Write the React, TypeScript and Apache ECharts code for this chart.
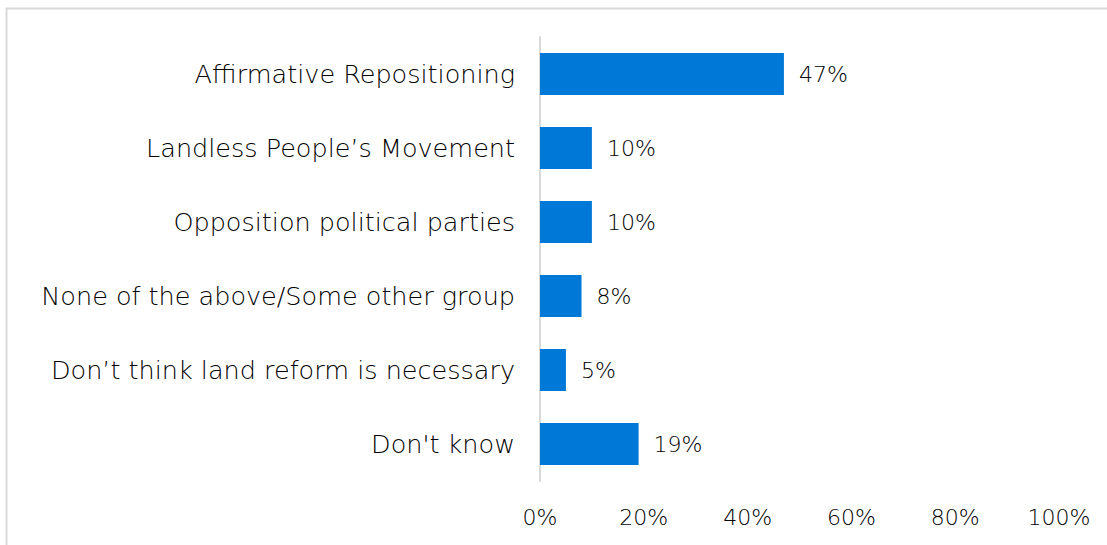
import React, { useEffect, useRef } from "react";
import * as echarts from "echarts";

const categories = [
  "Affirmative Repositioning",
  "Landless People\u2019s Movement",
  "Opposition political parties",
  "None of the above/Some other group",
  "Don\u2019t think land reform is necessary",
  "Don't know",
];
const values = [47, 10, 10, 8, 5, 19];
const xTicks = [0, 20, 40, 60, 80, 100];

const FONT = "'DejaVu Sans', sans-serif";

export default function App() {
  const ref = useRef<HTMLDivElement>(null);
  useEffect(() => {
    if (!ref.current) return;
    const chart = echarts.init(ref.current, null, { renderer: "svg" });
    chart.setOption({
      animation: false,
      backgroundColor: "#ffffff",
      graphic: [
        {
          type: "rect",
          left: 4,
          top: 6,
          shape: { width: 1120, height: 560 },
          style: { fill: "none", stroke: "#d9d9d9", lineWidth: 2 },
          silent: true,
        },
      ],
      grid: { left: 540, right: 48, top: 37, bottom: 64, containLabel: false },
      xAxis: {
        type: "value",
        min: xTicks[0],
        max: xTicks[xTicks.length - 1],
        interval: 20,
        axisLine: { show: false },
        axisTick: { show: false },
        splitLine: { show: false },
        axisLabel: {
          formatter: "{value}%",
          color: "#000000",
          fontFamily: FONT,
          fontWeight: 300,
          fontSize: 22,
          margin: 25,
        },
      },
      yAxis: {
        type: "category",
        data: categories,
        inverse: true,
        axisLine: { show: true, lineStyle: { color: "#d9d9d9", width: 2 } },
        axisTick: { show: false },
        axisLabel: {
          color: "#000000",
          fontFamily: FONT,
          fontWeight: 300,
          fontSize: 25.5,
          margin: 25,
        },
      },
      series: [
        {
          type: "bar",
          data: values,
          barWidth: 42,
          itemStyle: { color: "#0078D7" },
          label: {
            show: true,
            position: "right",
            distance: 15,
            formatter: "{c}%",
            color: "#000000",
            fontFamily: FONT,
            fontWeight: 300,
            fontSize: 22,
          },
        },
      ],
    });
    return () => chart.dispose();
  }, []);
  return (
    <div
      ref={ref}
      style={{ position: "fixed", left: 0, top: 0, width: 1107, height: 545 }}
    />
  );
}
